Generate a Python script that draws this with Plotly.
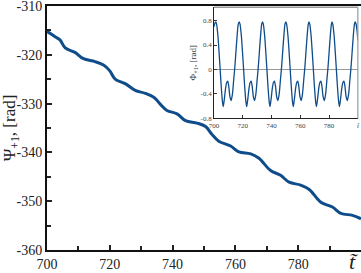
import plotly.graph_objects as go

# Main curve: Psi_{+1} vs t~
t_main = [700.0, 702.6, 704.2, 705.8, 708.9, 711.6, 715.3, 718.0, 720.0, 721.7,
          724.9, 728.1, 731.3, 734.2, 736.2, 738.2, 741.4, 744.1, 747.8, 750.5,
          752.5, 754.7, 758.5, 761.1, 764.9, 767.5, 771.2, 774.4, 777.1, 780.8,
          783.5, 787.2, 790.9, 793.6, 797.3, 800.0]
psi = [-315.2, -316.3, -317.0, -318.6, -319.5, -320.8, -321.4, -322.1, -323.3, -325.0,
       -325.9, -327.3, -327.9, -328.8, -330.2, -331.4, -332.1, -333.5, -334.0, -334.7,
       -336.3, -337.7, -338.7, -339.9, -340.3, -341.2, -343.7, -344.7, -346.1, -346.7,
       -347.6, -350.2, -351.2, -352.5, -352.9, -353.6]

# Inset: Phi_{+1} vs t~
t_inset = [700.0, 700.6,
           701.2, 701.8, 702.7, 703.5, 704.2, 705.0, 705.8, 706.4, 707.1, 707.9, 708.7, 709.5, 710.2, 711.0, 711.9, 712.8, 713.7, 714.5, 715.4, 716.2, 716.8,
           717.5, 718.1, 719.0, 719.8, 720.5, 721.3, 722.1, 722.7, 723.4, 724.2, 725.0, 725.8, 726.5, 727.3, 728.2, 729.1, 730.0, 730.8, 731.7, 732.5, 733.1,
           733.7, 734.3, 735.2, 736.0, 736.7, 737.5, 738.3, 738.9, 739.6, 740.4, 741.2, 742.0, 742.7, 743.5, 744.4, 745.3, 746.2, 747.0, 747.9, 748.7, 749.3,
           749.9, 750.5, 751.4, 752.2, 752.9, 753.7, 754.5, 755.1, 755.8, 756.6, 757.4, 758.2, 758.9, 759.7, 760.6, 761.5, 762.4, 763.2, 764.1, 764.9, 765.5,
           766.0, 766.6, 767.5, 768.3, 769.0, 769.8, 770.6, 771.2, 771.9, 772.7, 773.5, 774.3, 775.0, 775.8, 776.7, 777.6, 778.5, 779.3, 780.2, 781.0, 781.6,
           782.0, 782.6, 783.5, 784.3, 785.0, 785.8, 786.6, 787.2, 787.9, 788.7, 789.5, 790.3, 791.0, 791.8, 792.7, 793.6, 794.5, 795.3, 796.2, 797.0, 797.6,
           798.1, 798.7, 799.4, 800.0]
phi = [0.70, 0.76,
       0.78, 0.74, 0.55, 0.28, 0.02, -0.28, -0.52, -0.61, -0.50, -0.33, -0.22, -0.19, -0.27, -0.44, -0.51, -0.40, -0.16, 0.05, 0.35, 0.60, 0.74,
       0.78, 0.74, 0.55, 0.28, 0.02, -0.28, -0.52, -0.61, -0.50, -0.33, -0.22, -0.19, -0.27, -0.44, -0.51, -0.40, -0.16, 0.05, 0.35, 0.60, 0.74,
       0.78, 0.74, 0.55, 0.28, 0.02, -0.28, -0.52, -0.61, -0.50, -0.33, -0.22, -0.19, -0.27, -0.44, -0.51, -0.40, -0.16, 0.05, 0.35, 0.60, 0.74,
       0.78, 0.74, 0.55, 0.28, 0.02, -0.28, -0.52, -0.61, -0.50, -0.33, -0.22, -0.19, -0.27, -0.44, -0.51, -0.40, -0.16, 0.05, 0.35, 0.60, 0.74,
       0.78, 0.74, 0.55, 0.28, 0.02, -0.28, -0.52, -0.61, -0.50, -0.33, -0.22, -0.19, -0.27, -0.44, -0.51, -0.40, -0.16, 0.05, 0.35, 0.60, 0.74,
       0.78, 0.74, 0.55, 0.28, 0.02, -0.28, -0.52, -0.61, -0.50, -0.33, -0.22, -0.19, -0.27, -0.44, -0.51, -0.40, -0.16, 0.05, 0.35, 0.60, 0.74,
       0.78, 0.75, 0.64, 0.48]

main_xticks = [700, 720, 740, 760, 780]
main_xlabels = ["700", "720", "740", "760", "780"]
main_yticks = [-360, -350, -340, -330, -320, -310]
main_ylabels = ["-360", "-350", "-340", "-330", "-320", "-310"]
inset_xticks = [700, 720, 740, 760, 780, 800]
inset_xlabels = ["700", "720", "740", "760", "780", "<i>t̃</i>"]
inset_yticks = [-0.8, -0.4, 0, 0.4, 0.8]
inset_ylabels = ["-0.8", "-0.4", "0", "0.4", "0.8"]

LINE = "#0f4c8a"
SERIF = "Liberation Serif"

fig = go.Figure()
fig.add_trace(go.Scatter(x=t_main, y=psi, mode="lines",
                         line=dict(color=LINE, width=3, shape="spline", smoothing=1.0),
                         xaxis="x", yaxis="y", showlegend=False, hoverinfo="skip"))
fig.add_trace(go.Scatter(x=t_inset, y=phi, mode="lines",
                         line=dict(color=LINE, width=1.3, shape="spline", smoothing=0.6),
                         xaxis="x2", yaxis="y2", showlegend=False, hoverinfo="skip"))

fig.update_layout(
    width=361, height=273,
    margin=dict(l=47, r=0, t=6, b=23, autoexpand=False),
    paper_bgcolor="white", plot_bgcolor="white",
    font=dict(family=SERIF, color="#222"),
    xaxis=dict(domain=[0, 1], range=[700, 800], tickvals=main_xticks, ticktext=main_xlabels,
               ticks="inside", ticklen=5, tickwidth=1.5, tickcolor="#222",
               minor=dict(ticks="inside", dtick=10, tick0=700, ticklen=4, tickcolor="#222"),
               showline=True, linecolor="#111", linewidth=2, mirror=True,
               showgrid=False, zeroline=False, ticklabeloverflow="allow", automargin=False,
               tickfont=dict(family=SERIF, size=14, color="#222")),
    yaxis=dict(domain=[0, 1], range=[-360, -310], tickvals=main_yticks, ticktext=main_ylabels,
               ticks="inside", ticklen=5, tickwidth=1.5, tickcolor="#222",
               minor=dict(ticks="inside", dtick=5, tick0=-360, ticklen=4, tickcolor="#222"),
               showline=True, linecolor="#111", linewidth=2,
               showgrid=False, zeroline=False, ticklabeloverflow="allow", automargin=False,
               tickfont=dict(family=SERIF, size=14, color="#222"),
               title=dict(text="Ψ<sub>+1</sub>, [rad]", standoff=0,
                          font=dict(family=SERIF, size=17, color="#222"))),
    xaxis2=dict(domain=[0.532, 0.990], anchor="y2", range=[700, 800],
                tickvals=inset_xticks, ticktext=inset_xlabels,
                ticks="inside", ticklen=3, tickwidth=1, tickcolor="#333",
                showline=True, linecolor="#222", linewidth=1,
                showgrid=False, zeroline=False, ticklabeloverflow="allow", automargin=False,
                tickfont=dict(family=SERIF, size=7, color="#444")),
    yaxis2=dict(domain=[0.54, 0.995], anchor="x2", range=[-0.8, 1.02],
                tickvals=inset_yticks, ticktext=inset_ylabels,
                ticks="inside", ticklen=3, tickwidth=1, tickcolor="#333",
                showline=True, linecolor="#222", linewidth=1,
                showgrid=False, zeroline=True, zerolinecolor="#999", zerolinewidth=1,
                ticklabeloverflow="allow", automargin=False,
                tickfont=dict(family=SERIF, size=7, color="#444"),
                title=dict(text="Φ<sub>+1</sub>, [rad]", standoff=2,
                           font=dict(family=SERIF, size=9, color="#333"))),
    shapes=[
        dict(type="line", xref="x2 domain", yref="y2 domain", x0=0, x1=1, y0=1, y1=1,
             line=dict(color="#999", width=1.5)),
        dict(type="line", xref="x2 domain", yref="y2 domain", x0=1, x1=1, y0=0, y1=1,
             line=dict(color="#999", width=1.2)),
    ],
    annotations=[
        dict(text="<i>t̃</i>", xref="paper", yref="paper", x=0.975, y=0,
             xanchor="center", yanchor="top", yshift=3, showarrow=False,
             font=dict(family=SERIF, size=22, color="#222")),
    ],
)

fig.write_html("out.html", config={"displayModeBar": False},
               post_script="document.body.style.margin='0';document.body.style.overflow='hidden';")
